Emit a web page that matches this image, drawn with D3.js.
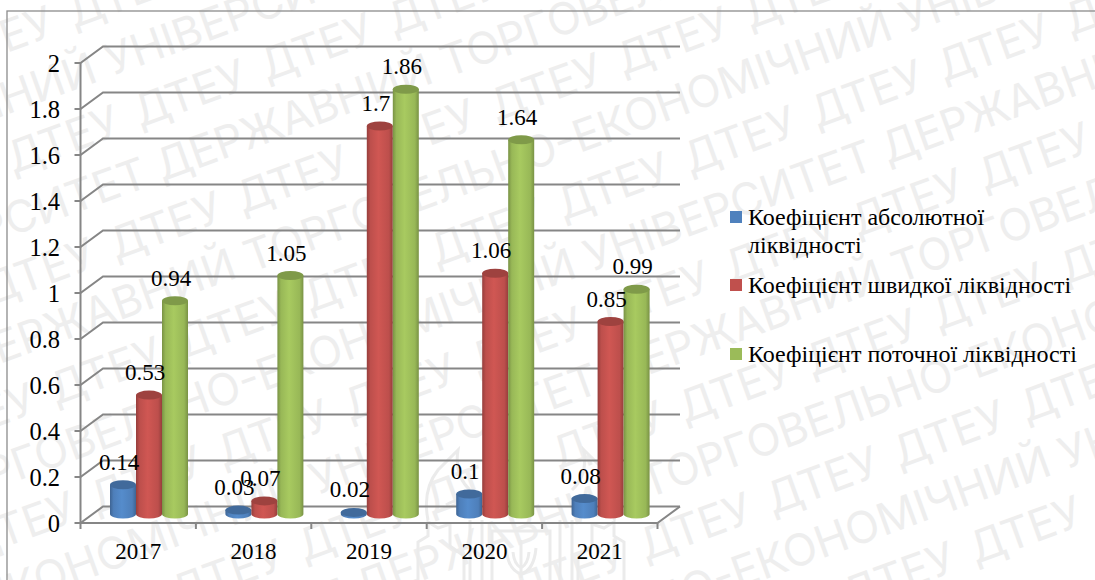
<!DOCTYPE html>
<html>
<head>
<meta charset="utf-8">
<script src="https://cdnjs.cloudflare.com/ajax/libs/d3/7.8.5/d3.min.js"></script>
<style>
  html, body { margin: 0; background: #fff; }
  svg { display: block; }
  text { font-family: "Liberation Serif", serif; fill: #000; }
</style>
</head>
<body>
<div id="chartContainer"></div>
<script>
var years = ["2017", "2018", "2019", "2020", "2021"];
var seriesNames = ["Коефіцієнт абсолютної ліквідності", "Коефіцієнт швидкої ліквідності", "Коефіцієнт поточної ліквідності"];
var absolute = [0.14, 0.03, 0.02, 0.1, 0.08];
var quick = [0.53, 0.07, 1.7, 1.06, 0.85];
var current = [0.94, 1.05, 1.86, 1.64, 0.99];
var yTicks = [0, 0.2, 0.4, 0.6, 0.8, 1, 1.2, 1.4, 1.6, 1.8, 2];
var colors = ["#4f81bd", "#c0504d", "#9bbb59"];
var values = [absolute, quick, current];

// background stamp of the source document
var stampCycle = "ДЕРЖАВНИЙ ТОРГОВЕЛЬНО-ЕКОНОМІЧНИЙ УНІВЕРСИТЕТ ";
var stampWord = "ДТЕУ";
// long rows: word that must start at the given offset along the row
var stampLongRows = [
  [-6, "ДЕРЖАВНИЙ", 560], [110, "УНІВЕРСИТЕТ", 66], [226, "ДЕРЖАВНИЙ", 78], [342, "ТОРГОВЕЛЬНО", 130],
  [458, "ДЕРЖАВНИЙ", 766], [574, "ТОРГОВЕЛЬНО", 735], [690, "ТОРГОВЕЛЬНО", 425], [806, "ТОРГОВЕЛЬНО", 130]
];
// short rows: offset of one ДТЕУ
var stampShortRows = [[52, 60], [168, 88], [284, 20], [400, 49], [516, 50], [632, 94], [748, 10], [864, 49]];

var svg = d3.select("#chartContainer").append("svg").attr("width", 1095).attr("height", 580);
var defs = svg.append("defs");

// stamp
var stamp = svg.append("g").attr("transform", "rotate(-20)");
function stampText(px, py, str) {
  return stamp.append("text").attr("x", px).attr("y", py)
    .style("font-family", "Inter, sans-serif").style("font-size", "44px")
    .style("fill", "#eeeeee").text(str);
}
stampShortRows.forEach(function (r) {
  for (var k = -4; k < 10; k++) stampText(r[1] + k * 135, r[0], stampWord);
});
var ruler = stampText(0, -200, stampCycle);
var cycleLength = ruler.node().getSubStringLength(0, stampCycle.length);
stampLongRows.forEach(function (r) {
  var idx = stampCycle.indexOf(r[1]);
  var start = r[2] - (idx > 0 ? ruler.node().getSubStringLength(0, idx) : 0);
  stampText(start - cycleLength, r[0], stampCycle + stampCycle + stampCycle);
});
ruler.remove();

// emblem, barely visible under the axis
var emblem = svg.append("g").attr("fill", "none").attr("stroke", "#ebebeb").attr("stroke-width", 3);
emblem.append("rect").attr("x", 492).attr("y", 531).attr("width", 58).attr("height", 60);
emblem.append("path").attr("d", "M506 548 q2 22 15 26 q13 -4 15 -26 M521 540 v38 M513 552 q1 12 8 16 q7 -4 8 -16");
[0, 1].forEach(function (side) {
  var g = emblem.append("g").attr("transform", side ? "translate(1042,0) scale(-1,1)" : null);
  g.append("path").attr("d", "M418 580 v-38 l10 -6 v-14 l10 6 l12 -4 v22 l14 10 v24");
  g.append("path").attr("d", "M470 580 v-60 M482 580 v-60");
  g.append("path").attr("d", "M428 520 q-6 -30 10 -50 l20 -20 q-4 25 12 40 M446 505 q12 -8 24 -4");
});

// chart border
svg.append("rect").attr("x", 7).attr("y", 11).attr("width", 1200).attr("height", 700)
  .attr("fill", "none").attr("stroke", "#8c8c8c").attr("stroke-width", 1.3);

var x = d3.scaleBand().domain(years).range([80.5, 657.5]);
var sub = d3.scaleBand().domain(d3.range(3)).range([29.5, 107.5]);
var y = d3.scaleLinear().domain([0, 2]).range([523, 63]);

var depthX = 22.5, depthY = 16.5, baseLift = 9, topLift = 6, ry = 4.5;
var grey = "#868686";

// walls and gridlines
var grid = svg.append("g").attr("fill", "none").attr("stroke", grey).attr("stroke-width", 2);
yTicks.forEach(function (t) {
  grid.append("path").attr("d", d3.line()([
    [x.range()[0] - 6, y(t)],
    [x.range()[0], y(t)],
    [x.range()[0] + depthX, y(t) - depthY],
    [x.range()[1] + depthX, y(t) - depthY]
  ]));
});
grid.append("path").attr("d", d3.line()([[x.range()[0], y(2)], [x.range()[0], y(0) + 6]]));
grid.append("path").attr("d", d3.line()([
  [x.range()[0], y(0)], [x.range()[1], y(0)], [x.range()[1] + depthX, y(0) - depthY]
]));
years.forEach(function (yr) {
  grid.append("path").attr("d", d3.line()([[x(yr) + x.bandwidth(), y(0)], [x(yr) + x.bandwidth(), y(0) + 6]]));
});

// y labels
svg.append("g").selectAll("text").data(yTicks).enter().append("text")
  .attr("x", 60).attr("y", function (d) { return y(d) + 9; })
  .attr("text-anchor", "end").style("font-size", "24.5px")
  .text(function (d) { return d; });

// x labels
svg.append("g").selectAll("text").data(years).enter().append("text")
  .attr("x", function (d) { return x(d) + x.bandwidth() / 2; })
  .attr("y", 559).attr("text-anchor", "middle").style("font-size", "23px")
  .text(function (d) { return d; });

// cylinder shading
colors.forEach(function (c, i) {
  var g = defs.append("linearGradient").attr("id", "cyl" + i);
  var base = d3.rgb(c);
  g.append("stop").attr("offset", "0%").attr("stop-color", base.darker(0.7));
  g.append("stop").attr("offset", "14%").attr("stop-color", base.darker(0.05));
  g.append("stop").attr("offset", "45%").attr("stop-color", base.brighter(0.22));
  g.append("stop").attr("offset", "85%").attr("stop-color", base.darker(0.05));
  g.append("stop").attr("offset", "100%").attr("stop-color", base.darker(0.7));
});

// bars, left to right so each one overlaps the previous
var bars = svg.append("g");
var labels = [];
years.forEach(function (yr, yi) {
  values.forEach(function (vals, si) {
    var left = x(yr) + sub(si);
    var w = sub.bandwidth();
    var rx = w / 2;
    var top = y(vals[yi]) - topLift;
    var bottom = y(0) - baseLift;
    bars.append("path")
      .attr("d", "M" + left + "," + top + " V" + bottom +
        " A" + rx + "," + ry + " 0 0 0 " + (left + w) + "," + bottom +
        " V" + top + " Z")
      .attr("fill", "url(#cyl" + si + ")");
    bars.append("ellipse")
      .attr("cx", left + rx).attr("cy", top).attr("rx", rx).attr("ry", ry)
      .attr("fill", d3.rgb(colors[si]).darker(0.55));
    labels.push({ x: left + rx - 4, y: top - 15, v: vals[yi] });
  });
});

// value labels on top of all bars
svg.append("g").selectAll("text").data(labels).enter().append("text")
  .attr("x", function (d) { return d.x; })
  .attr("y", function (d) { return d.y; })
  .attr("text-anchor", "middle").style("font-size", "23px")
  .text(function (d) { return d.v; });

// legend
var legendRows = [
  { swatch: 211, lines: [["Коефіцієнт абсолютної", 225], ["ліквідності", 253]] },
  { swatch: 279, lines: [[seriesNames[1], 293]] },
  { swatch: 348, lines: [[seriesNames[2], 362]] }
];
legendRows.forEach(function (row, i) {
  svg.append("rect").attr("x", 730).attr("y", row.swatch).attr("width", 12).attr("height", 12).attr("fill", colors[i]);
  row.lines.forEach(function (l) {
    svg.append("text").attr("x", 748).attr("y", l[1]).style("font-size", "24px").text(l[0]);
  });
});
</script>
</body>
</html>
